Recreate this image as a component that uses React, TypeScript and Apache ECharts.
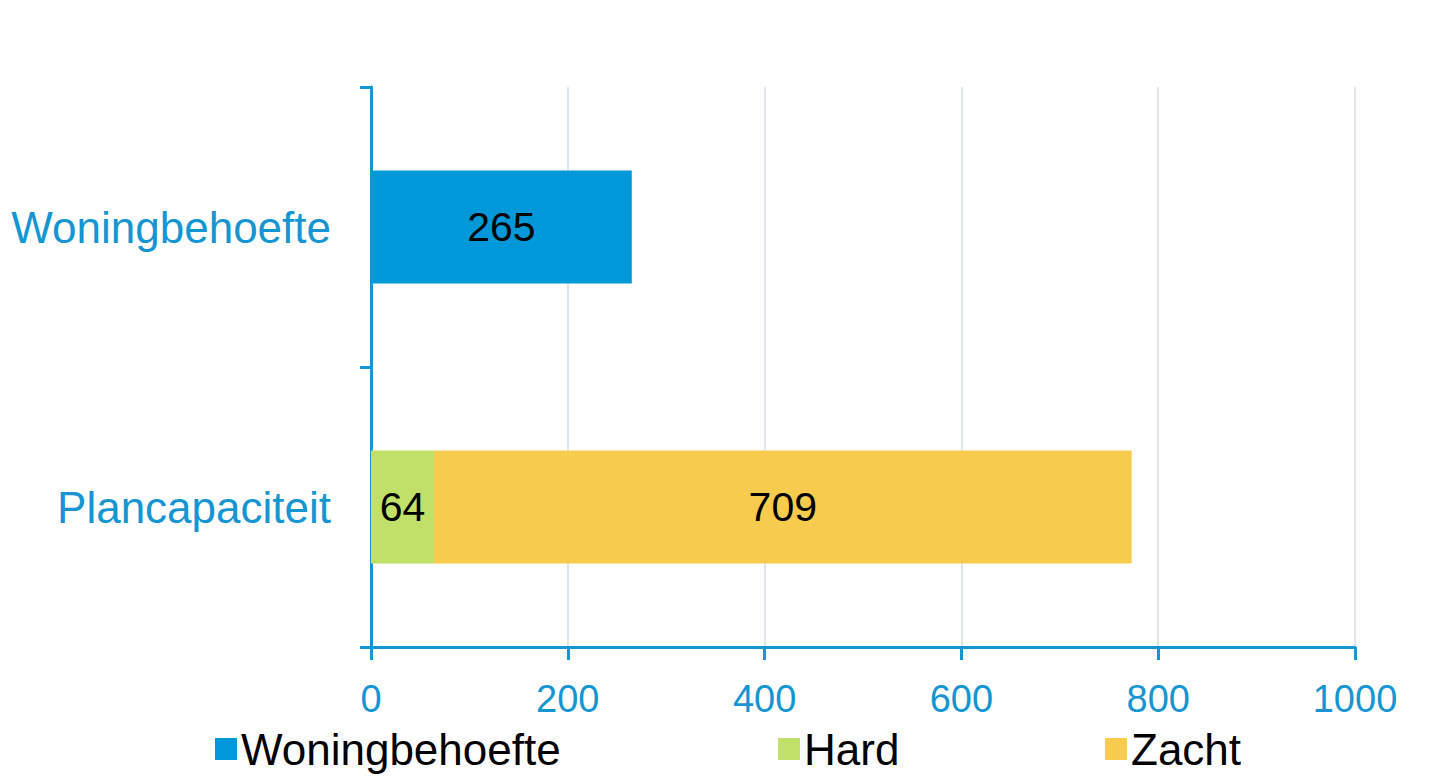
import React, { useEffect, useRef } from "react";
import * as echarts from "echarts";

const categories = ["Woningbehoefte", "Plancapaciteit"];
const seriesNames = ["Woningbehoefte", "Hard", "Zacht"];
const woningbehoefteValues = [265, null];
const hardValues = [null, 64];
const zachtValues = [null, 709];
const xTicks = { min: 0, max: 1000, interval: 200 };

const AXIS_BLUE = "#1596d2";
const FONT = "'Liberation Sans', Arial, sans-serif";
const legendLefts = [210, 773, 1100];

export default function App() {
  const ref = useRef<HTMLDivElement>(null);
  useEffect(() => {
    document.body.style.margin = "0";
    if (!ref.current) return;
    const chart = echarts.init(ref.current, undefined, { renderer: "svg" });
    const labelStyle = {
      show: true,
      position: "inside",
      color: "#000",
      fontSize: 41,
      fontFamily: FONT,
    };
    const colors = ["#0098d8", "#c0e06a", "#f7cb4d"];
    const values = [woningbehoefteValues, hardValues, zachtValues];
    chart.setOption({
      animation: false,
      grid: { left: 371, right: 74, top: 87, bottom: 132, containLabel: false },
      legend: seriesNames.map((name, i) => ({
        left: legendLefts[i],
        bottom: 3,
        itemWidth: 22,
        itemHeight: 22,
        icon: "rect",
        textStyle: { color: "#000", fontSize: 44, fontFamily: FONT, padding: [0, 0, 0, -1] },
        data: [name],
      })),
      xAxis: {
        type: "value",
        min: xTicks.min,
        max: xTicks.max,
        interval: xTicks.interval,
        axisLine: { show: true, lineStyle: { color: AXIS_BLUE, width: 3 } },
        axisTick: { show: true, length: 13, lineStyle: { color: AXIS_BLUE, width: 3 } },
        axisLabel: {
          color: AXIS_BLUE,
          fontSize: 38,
          fontFamily: FONT,
          margin: 33,
          formatter: (v: number) => String(v),
        },
        splitLine: { show: true, lineStyle: { color: "#dfe5f0", width: 2 } },
      },
      yAxis: {
        type: "category",
        data: categories,
        inverse: true,
        axisLine: { show: true, lineStyle: { color: AXIS_BLUE, width: 3 } },
        axisTick: { show: true, length: 11, lineStyle: { color: AXIS_BLUE, width: 3 } },
        axisLabel: { color: AXIS_BLUE, fontSize: 44, fontFamily: FONT, margin: 40 },
        splitLine: { show: false },
      },
      series: seriesNames.map((name, i) => ({
        name,
        type: "bar",
        stack: "total",
        barWidth: 113,
        data: values[i],
        itemStyle: { color: colors[i] },
        label: labelStyle,
      })),
    });
    return () => chart.dispose();
  }, []);
  return <div ref={ref} style={{ width: 1429, height: 779 }} />;
}
